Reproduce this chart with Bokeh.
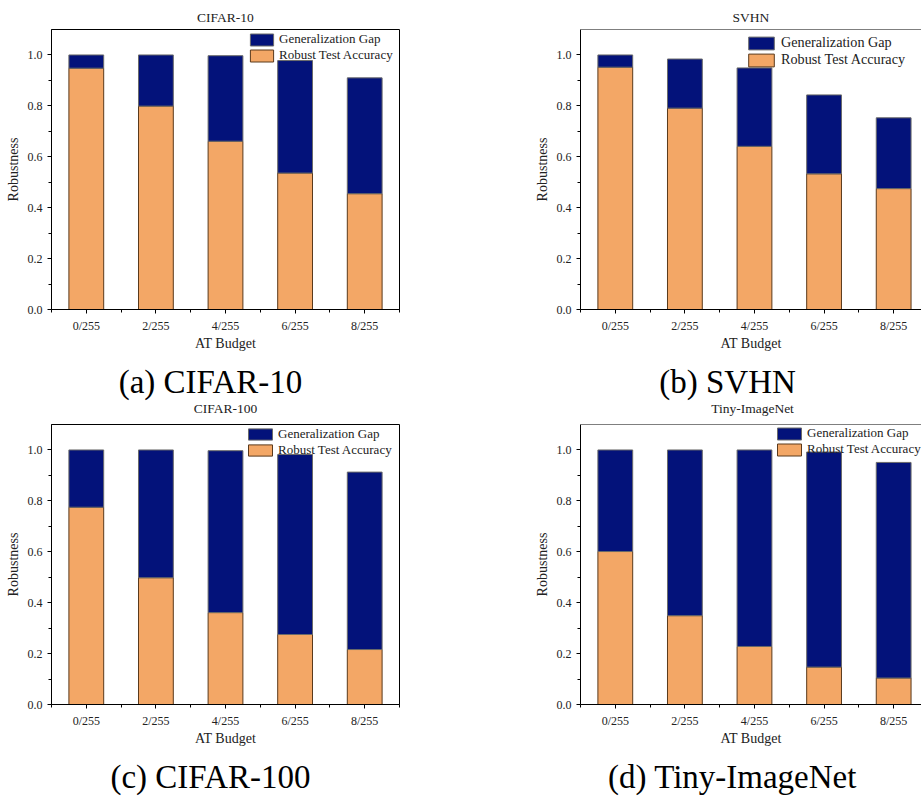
from bokeh.plotting import figure
from bokeh.models import (Range1d, FixedTicker, PrintfTickFormatter, Legend, LegendItem,
                          Label, Span, LinearAxis)
from bokeh.layouts import column, row
from bokeh.embed import file_html
from bokeh.resources import INLINE

# ---------------- data ----------------
budgets = ["0/255", "2/255", "4/255", "6/255", "8/255"]
positions = [0, 1, 2, 3, 4]

cifar10_robust = [0.948, 0.799, 0.661, 0.536, 0.455]
cifar10_total = [1.000, 1.000, 0.997, 0.978, 0.910]

svhn_robust = [0.952, 0.791, 0.641, 0.533, 0.475]
svhn_total = [1.000, 0.984, 0.949, 0.843, 0.753]

cifar100_robust = [0.775, 0.498, 0.361, 0.275, 0.216]
cifar100_total = [1.000, 1.000, 0.997, 0.982, 0.913]

tiny_robust = [0.601, 0.349, 0.228, 0.147, 0.104]
tiny_total = [1.000, 1.000, 1.000, 0.992, 0.951]

y_major = [0.0, 0.2, 0.4, 0.6, 0.8, 1.0]
y_minor = [0.1, 0.3, 0.5, 0.7, 0.9]
x_minor = [-0.5, 0.5, 1.5, 2.5, 3.5, 4.5]

series_names = ["Generalization Gap", "Robust Test Accuracy"]
titles = ["CIFAR-10", "SVHN", "CIFAR-100", "Tiny-ImageNet"]
captions = ["(a) CIFAR-10", "(b) SVHN", "(c) CIFAR-100", "(d) Tiny-ImageNet"]

# ---------------- style ----------------
ORANGE = "#F3A766"
NAVY = "#03127A"
FONT = "Liberation Serif"
TXT = "#222222"


def panel(title, robust, total, left, top, fw, bottom, right, x_end, outline, leg):
    p = figure(title=None, frame_width=fw, frame_height=280,
               min_border_left=left, min_border_top=top,
               min_border_bottom=bottom, min_border_right=right,
               x_range=Range1d(-0.5, x_end), y_range=Range1d(0, 1.1),
               output_backend="svg", toolbar_location=None)
    p.xgrid.visible = False
    p.ygrid.visible = False
    p.background_fill_color = "white"
    p.border_fill_color = "white"
    if outline:
        p.outline_line_color = "black"
        p.outline_line_width = 1
    else:
        p.outline_line_color = None
        p.add_layout(Span(location=1.1, dimension="width",
                          line_color="black", line_width=1))

    r_acc = p.vbar(x=positions, width=0.5, bottom=0, top=robust,
                   fill_color=ORANGE, line_color="#5a3a1c", line_width=1)
    r_gap = p.vbar(x=positions, width=0.5, bottom=robust, top=total,
                   fill_color=NAVY, line_color="#6a6a6a", line_width=1)

    p.xaxis.ticker = FixedTicker(ticks=positions, minor_ticks=x_minor)
    p.xaxis.major_label_overrides = {i: b for i, b in zip(positions, budgets)}
    p.yaxis.ticker = FixedTicker(ticks=y_major, minor_ticks=y_minor)
    p.yaxis.formatter = PrintfTickFormatter(format="%.1f")
    p.xaxis.axis_label = "AT Budget"
    p.yaxis.axis_label = "Robustness"
    for ax in p.axis:
        ax.axis_line_color = "black"
        ax.axis_line_width = 1
        ax.major_tick_line_color = "black"
        ax.minor_tick_line_color = "black"
        ax.major_tick_out = 4
        ax.major_tick_in = 0
        ax.minor_tick_out = 3
        ax.minor_tick_in = 0
        ax.major_label_text_font = FONT
        ax.major_label_text_font_size = "12px"
        ax.major_label_text_color = TXT
        ax.major_label_standoff = 5
        ax.axis_label_text_font = FONT
        ax.axis_label_text_font_size = "14px"
        ax.axis_label_text_font_style = "normal"
        ax.axis_label_text_color = TXT
    p.xaxis.axis_label_standoff = 0
    p.yaxis.axis_label_standoff = 4

    if title is not None:
        # chart title, carried by a tick-less axis above the frame
        top_axis = LinearAxis(ticker=FixedTicker(ticks=[]), axis_line_color=None,
                              major_tick_out=0, major_tick_in=0, minor_tick_out=0,
                              minor_tick_in=0, major_label_standoff=0,
                              axis_label=title, axis_label_standoff=5,
                              axis_label_text_font=FONT, axis_label_text_font_size="13.5px",
                              axis_label_text_font_style="normal", axis_label_text_color=TXT)
        p.add_layout(top_axis, "above")

    legend = Legend(items=[LegendItem(label=series_names[0], renderers=[r_gap]),
                           LegendItem(label=series_names[1], renderers=[r_acc])],
                    location=leg["loc"], padding=0, margin=0,
                    spacing=leg["spacing"], glyph_width=leg["gw"],
                    glyph_height=leg["gh"], label_height=leg["gh"],
                    label_standoff=leg["standoff"],
                    label_text_font=FONT, label_text_font_size=leg["fs"],
                    label_text_color=TXT,
                    background_fill_alpha=0, border_line_color=None)
    p.add_layout(legend)
    return p


def strip(h, items):
    s = figure(title=None, width=921, height=h, x_range=Range1d(0, 1), y_range=Range1d(0, 1),
               x_axis_location=None, y_axis_location=None, min_border=0,
               output_backend="svg", toolbar_location=None)
    s.outline_line_color = None
    s.xgrid.visible = False
    s.ygrid.visible = False
    for t, cx, cy, size, color in items:
        s.add_layout(Label(x=cx, y=cy, x_units="screen", y_units="screen",
                           text=t, text_align="center", text_baseline="middle",
                           text_font=FONT, text_font_size=size, text_color=color))
    return s


pa = panel(titles[0], cifar10_robust, cifar10_total,
           51, 29, 348, 46, 121, 4.5, True,
           dict(loc=(196, 246), spacing=-2, gw=29, gh=15, standoff=3, fs="13px"))
pb = panel(titles[1], svhn_robust, svhn_total,
           60, 29, 341, 46, 0, 4.4, False,
           dict(loc=(165, 241), spacing=-1, gw=32, gh=16, standoff=4, fs="14.2px"))
pc = panel(None, cifar100_robust, cifar100_total,
           51, 4, 348, 46, 121, 4.5, True,
           dict(loc=(194, 246), spacing=-1, gw=30, gh=14, standoff=3, fs="13px"))
pd = panel(None, tiny_robust, tiny_total,
           60, 4, 341, 46, 0, 4.4, False,
           dict(loc=(194, 247), spacing=-2, gw=30, gh=15, standoff=3, fs="13px"))

# strip between the rows: captions of the top row and titles of the bottom row
mid_strip = strip(65, [(captions[0], 210, 39, "33px", "black"),
                       (captions[1], 727, 39, "33px", "black"),
                       (titles[2], 225, 12, "13.5px", TXT),
                       (titles[3], 752, 12, "13.5px", TXT)])
bottom_strip = strip(47, [(captions[2], 210, 21, "33px", "black"),
                          (captions[3], 732, 21, "33px", "black")])

layout = column(row(pa, pb), mid_strip, row(pc, pd), bottom_strip)
open("out.html", "w").write(file_html(layout, INLINE))
